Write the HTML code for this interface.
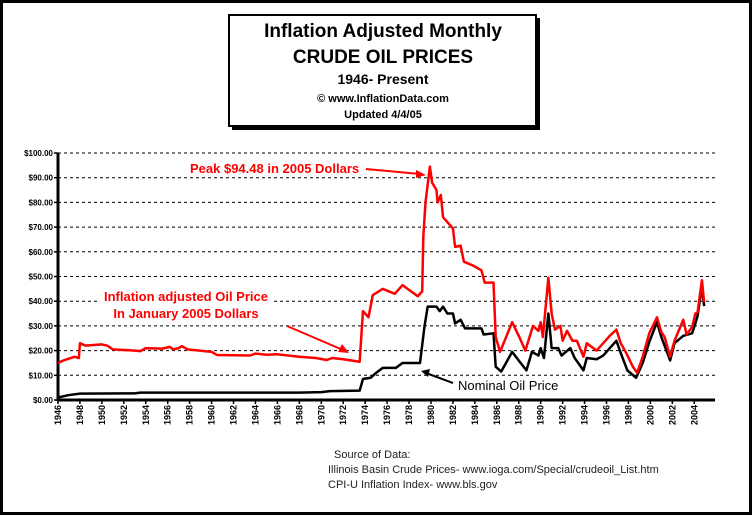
<!DOCTYPE html>
<html><head><meta charset="utf-8"><style>
html,body{margin:0;padding:0;background:#fff;}
svg{display:block;font-family:"Liberation Sans",Arial,sans-serif;}
</style></head><body>
<svg id="chart" width="754" height="517" viewBox="0 0 754 517">
<rect x="1.5" y="1.5" width="749" height="512" fill="#fff" stroke="#000" stroke-width="3"/>
<g>
<rect x="232" y="18" width="308" height="112" fill="#000"/>
<rect x="229" y="15" width="307" height="111" fill="#fff" stroke="#000" stroke-width="2"/>
<text x="383" y="37" text-anchor="middle" font-size="19" font-weight="bold">Inflation Adjusted Monthly</text>
<text x="383" y="63" text-anchor="middle" font-size="19" font-weight="bold">CRUDE OIL PRICES</text>
<text x="383" y="84" text-anchor="middle" font-size="14" font-weight="bold">1946- Present</text>
<text x="383" y="102" text-anchor="middle" font-size="11" font-weight="bold">© www.InflationData.com</text>
<text x="383" y="118" text-anchor="middle" font-size="11" font-weight="bold">Updated 4/4/05</text>
</g>
<g id="grid"></g><g id="yaxis"></g><g id="xaxis"></g><g id="series"></g>
<g>
<text x="190" y="173" font-size="13" font-weight="bold" fill="#f00">Peak $94.48 in 2005 Dollars</text>
<line x1="366" y1="169" x2="420" y2="174" stroke="#f00" stroke-width="2"/>
<polygon points="426,175 416,170 416,178" fill="#f00"/>
<rect x="100" y="285" width="172" height="34" fill="#fff"/>
<text x="186" y="301" text-anchor="middle" font-size="13" font-weight="bold" fill="#f00">Inflation adjusted Oil Price</text>
<text x="186" y="318" text-anchor="middle" font-size="13" font-weight="bold" fill="#f00">In January 2005 Dollars</text>
<line x1="287" y1="326" x2="343" y2="350" stroke="#f00" stroke-width="2"/>
<polygon points="349,353 338,352 342,344" fill="#f00"/>
<text x="458" y="390" font-size="13" fill="#000">Nominal Oil Price</text>
<line x1="453" y1="383" x2="426" y2="373" stroke="#000" stroke-width="2"/>
<polygon points="421,371 430,369 428,377" fill="#000"/>
</g>
<g font-size="11" fill="#222">
<text x="334" y="458">Source of Data:</text>
<text x="328" y="473">Illinois Basin Crude Prices-  www.ioga.com/Special/crudeoil_List.htm</text>
<text x="328" y="488">CPI-U Inflation Index-  www.bls.gov</text>
</g>
</svg>
<script>
const yTicks=[0,10,20,30,40,50,60,70,80,90,100];
const xYears=[1946,1948,1950,1952,1954,1956,1958,1960,1962,1964,1966,1968,1970,1972,1974,1976,1978,1980,1982,1984,1986,1988,1990,1992,1994,1996,1998,2000,2002,2004];
const realYears=[1946,1946.5,1947.5,1947.9,1948,1948.5,1950,1950.5,1951,1953,1953.5,1954,1955.5,1956.2,1956.5,1957,1957.3,1957.8,1960,1960.5,1963.5,1964,1965,1966,1968,1969.5,1970.5,1971,1972,1973.5,1973.8,1974.3,1974.7,1975.6,1976.7,1977.4,1978.8,1979.2,1979.3,1979.5,1979.9,1980.1,1980.5,1980.6,1980.9,1981.1,1981.6,1982,1982.2,1982.7,1983,1983.8,1984.6,1984.9,1985.7,1985.9,1986.3,1987.4,1988,1988.6,1989.3,1989.8,1990,1990.2,1990.7,1991,1991.3,1991.8,1992,1992.4,1992.9,1993.3,1993.9,1994.2,1995.1,1995.7,1996.3,1996.9,1997.3,1997.8,1998.4,1998.8,1999.3,1999.9,2000.6,2001,2001.3,2001.8,2002.2,2003,2003.3,2003.8,2004.1,2004.3,2004.7,2004.9];
const realPrices=[15,16,17.5,17,23,22,22.5,22,20.5,20,19.8,21,20.8,21.5,20.5,21,21.8,20.5,19.5,18.2,18,18.8,18.3,18.5,17.5,17,16.2,17,16.5,15.5,36,33.5,42.5,45,43,46.5,42,44,66,80,94.5,88,85,80,83,74,71.5,69.5,62,62.5,56,54.5,52.5,47.5,47.5,25.5,19.5,31.5,26,20,30,28,31.5,25.5,49.5,35,28.5,30,24,28,24,24,17.5,23,20,23,26,28.5,23,19,13.5,11,17.5,27,33.5,27.5,25.5,17.5,24,32.5,26.5,29.5,35,35.5,48.5,39.5];
const nomYears=[1946,1947,1948,1953,1953.5,1960,1968,1970,1970.8,1973.5,1973.8,1974.5,1975,1975.6,1976.8,1977.4,1979,1979.4,1979.7,1980.5,1980.8,1981.1,1981.5,1982,1982.2,1982.7,1983.1,1984.6,1984.8,1985.7,1985.9,1986.4,1987.4,1988,1988.7,1989.2,1989.8,1990,1990.3,1990.7,1991,1991.6,1991.9,1992.7,1993.1,1993.9,1994.2,1995.1,1995.7,1996.5,1996.9,1997.3,1997.9,1998.7,1999.3,1999.9,2000.6,2001,2001.8,2002.2,2003,2003.8,2004.1,2004.3,2004.7,2004.9];
const nomPrices=[1,2,2.6,2.7,3,3,3,3.2,3.6,3.8,8.5,9,11,13,13,15,15,29.5,37.8,37.8,36,37.8,35,35,31,32.5,29,29,26.5,27,13.5,11.5,19.5,16,12,19.5,18,21,17,35,21,21,18,21,17,12,17,16.5,18,22,24,19,12,9,15,23.5,31.5,25.5,16,23,26,27,31,34,46,38];

const NS='http://www.w3.org/2000/svg';
const X0=58,PX=10.97,Y0=400,PY=2.47,XR=715;
const xs=y=>X0+(y-1946)*PX, ys=v=>Y0-v*PY;
function mk(t,a,p){const e=document.createElementNS(NS,t);for(const k in a)e.setAttribute(k,a[k]);p.appendChild(e);return e;}
const grid=document.getElementById('grid'),ya=document.getElementById('yaxis'),xa=document.getElementById('xaxis'),se=document.getElementById('series');
yTicks.forEach(v=>{
  if(v>0){const g=mk('line',{x1:X0,x2:XR,y1:ys(v),y2:ys(v),stroke:'#000','stroke-width':1,'stroke-dasharray':'3,3'},grid);
  
  }
  mk('line',{x1:X0-4,x2:X0,y1:ys(v),y2:ys(v),stroke:'#000','stroke-width':1.5},ya);
  const t=mk('text',{x:X0-5,y:ys(v)+3,'text-anchor':'end','font-size':8,'font-weight':'bold'},ya);
  t.textContent='$'+v.toFixed(2);
  
  
});
mk('line',{x1:X0,x2:X0,y1:ys(100),y2:Y0+1,stroke:'#000','stroke-width':3},ya);
mk('line',{x1:X0-1,x2:XR,y1:Y0,y2:Y0,stroke:'#000','stroke-width':3},xa);
xYears.forEach(yr=>{
  const x=xs(yr);
  mk('line',{x1:x,x2:x,y1:Y0,y2:Y0+4,stroke:'#000','stroke-width':1.5},xa);
  const t=mk('text',{x:0,y:0,'text-anchor':'end','font-size':9,'font-weight':'bold',transform:`translate(${x+3},${Y0+5}) rotate(-90)`},xa);
  t.textContent=yr;
  
  
});
function line(xsArr,vs,col,name){
  const p=mk('polyline',{points:xsArr.map((y,i)=>xs(y)+','+ys(vs[i])).join(' '),fill:'none',stroke:col,'stroke-width':2.5,'stroke-linejoin':'round'},se);
  
  
}
line(nomYears,nomPrices,'#000','nominal-price-line');
line(realYears,realPrices,'#f00','inflation-adjusted-price-line');
</script>
</body></html>
